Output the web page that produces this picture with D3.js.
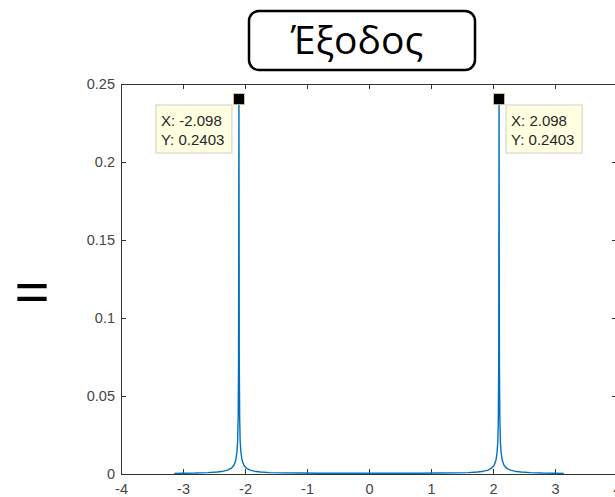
<!DOCTYPE html>
<html>
<head>
<meta charset="utf-8">
<script src="https://cdn.jsdelivr.net/npm/d3@7"></script>
<style>
  body { margin: 0; background: #fff; }
  svg { display: block; }
</style>
</head>
<body>
<svg id="chart"></svg>
<script>
const width = 615;
const height = 497;

// Data (response curve, peaks at +-2.098)
const freq = [
  -3.1416, -3.0, -2.8, -2.6, -2.45, -2.35, -2.28, -2.22, -2.18, -2.15, -2.13, -2.12, -2.11, -2.104,
  -2.098,
  -2.092, -2.086, -2.078, -2.066, -2.048, -2.018, -1.978, -1.918, -1.85, -1.75, -1.6, -1.4, -1.1, -0.8, -0.5, -0.2,
  0,
  0.2, 0.5, 0.8, 1.1, 1.4, 1.6, 1.75, 1.85, 1.918, 1.978, 2.018, 2.048, 2.066, 2.078, 2.086, 2.092,
  2.098,
  2.104, 2.11, 2.12, 2.13, 2.15, 2.18, 2.22, 2.28, 2.35, 2.45, 2.6, 2.8, 3.0, 3.1416
];
const magnitude = [
  0.0003, 0.0005, 0.0006, 0.0009, 0.0013, 0.0018, 0.0025, 0.0037, 0.0055, 0.0086, 0.014, 0.020, 0.036, 0.07,
  0.2403,
  0.07, 0.036, 0.021, 0.014, 0.0088, 0.0056, 0.0037, 0.0025, 0.0018, 0.0013, 0.0009, 0.0007, 0.0006, 0.0005, 0.0005, 0.0005,
  0.0005,
  0.0005, 0.0005, 0.0005, 0.0006, 0.0007, 0.0009, 0.0013, 0.0018, 0.0025, 0.0037, 0.0056, 0.0088, 0.014, 0.021, 0.036, 0.07,
  0.2403,
  0.07, 0.036, 0.020, 0.014, 0.0086, 0.0055, 0.0037, 0.0025, 0.0018, 0.0013, 0.0009, 0.0006, 0.0005, 0.0003
];
const xTicks = [-4, -3, -2, -1, 0, 1, 2, 3, 4];
const yTicks = [0, 0.05, 0.1, 0.15, 0.2, 0.25];
const tipX = [-2.098, 2.098];
const tipY = [0.2403, 0.2403];
const tipLabels = [["X: -2.098", "Y: 0.2403"], ["X: 2.098", "Y: 0.2403"]];
const titleText = "Έξοδος";

const svg = d3.select("#chart")
  .attr("width", width)
  .attr("height", height);

// Plot box
const plotLeft = 121, plotRight = 617, plotTop = 84, plotBottom = 474;

const xScale = d3.scaleLinear().domain([-4, 4]).range([plotLeft, plotRight]);
const yScale = d3.scaleLinear().domain([0, 0.25]).range([plotBottom, plotTop]);

const axisColor = "#333";
const labelFont = "Liberation Sans, Arial, sans-serif";

// plain hyphen-minus, like the original
const plainNum = d => String(+d.toFixed(2));

function styleAxis(g) {
  g.attr("font-size", null);
  g.select(".domain").attr("stroke", axisColor).attr("stroke-width", 1);
  g.selectAll(".tick line").attr("stroke", axisColor);
  g.selectAll(".tick text")
    .attr("fill", "#454545")
    .style("font-family", labelFont)
    .style("font-size", "14.5px");
}

// Bottom axis, ticks inward
svg.append("g")
  .attr("transform", `translate(0, ${plotBottom})`)
  .call(d3.axisBottom(xScale).tickValues(xTicks).tickSizeInner(-5).tickSizeOuter(0).tickPadding(10)
    .tickFormat(plainNum))
  .call(styleAxis);

// Left axis
svg.append("g")
  .attr("transform", `translate(${plotLeft}, 0)`)
  .call(d3.axisLeft(yScale).tickValues(yTicks).tickSizeInner(-5).tickSizeOuter(0).tickPadding(6)
    .tickFormat(plainNum))
  .call(styleAxis);

// Top axis (box)
svg.append("g")
  .attr("transform", `translate(0, ${plotTop})`)
  .call(d3.axisTop(xScale).tickValues(xTicks).tickSizeInner(-5).tickSizeOuter(0).tickFormat(""))
  .call(styleAxis);

// Right axis (box)
svg.append("g")
  .attr("transform", `translate(${plotRight}, 0)`)
  .call(d3.axisRight(yScale).tickValues(yTicks).tickSizeInner(-5).tickSizeOuter(0).tickFormat(""))
  .call(styleAxis);

// Clip
svg.append("clipPath").attr("id", "plot-clip")
  .append("rect")
  .attr("x", plotLeft).attr("y", plotTop)
  .attr("width", plotRight - plotLeft).attr("height", plotBottom - plotTop);

const points = freq.map((f, i) => [f, magnitude[i]]);

const line = d3.line()
  .x(d => xScale(d[0]))
  .y(d => yScale(d[1]));

svg.append("path")
  .datum(points)
  .attr("clip-path", "url(#plot-clip)")
  .attr("fill", "none")
  .attr("stroke", "#0072BD")
  .attr("stroke-width", 1.4)
  .attr("stroke-linejoin", "round")
  .attr("d", line);

// Data tips
const tips = svg.append("g");
tipX.forEach((tx, i) => {
  const px = xScale(tx);
  const py = yScale(tipY[i]);
  const boxW = 76, boxH = 48;
  const bx = tx < 0 ? px - 7 - boxW : px + 7;
  const by = 105;

  tips.append("rect")
    .attr("x", bx).attr("y", by)
    .attr("width", boxW).attr("height", boxH)
    .attr("fill", "#FFFFE1")
    .attr("stroke", "#cfcfc4")
    .attr("stroke-width", 1);

  tips.selectAll(null)
    .data(tipLabels[i])
    .enter()
    .append("text")
    .attr("x", bx + 5)
    .attr("y", (d, j) => by + 21 + j * 19)
    .attr("fill", "#262626")
    .style("font-family", labelFont)
    .style("font-size", "15px")
    .text(d => d);

  tips.append("rect")
    .attr("x", px - 5.5).attr("y", py - 5.5)
    .attr("width", 11).attr("height", 11)
    .attr("fill", "#000")
    .attr("stroke", "#d8cf9a")
    .attr("stroke-width", 0.8);
});

// Title box
svg.append("rect")
  .attr("x", 249).attr("y", 11)
  .attr("width", 226).attr("height", 59)
  .attr("rx", 10).attr("ry", 10)
  .attr("fill", "#fff")
  .attr("stroke", "#000")
  .attr("stroke-width", 2.5);

svg.append("text")
  .attr("x", 357)
  .attr("y", 54)
  .attr("text-anchor", "middle")
  .style("font-family", "Open Sans, sans-serif")
  .style("font-size", "39px")
  .attr("fill", "#000")
  .text(titleText);

// Equals sign
svg.append("text")
  .attr("x", 32)
  .attr("y", 315)
  .attr("text-anchor", "middle")
  .style("font-family", "Open Sans, sans-serif")
  .style("font-size", "64px")
  .attr("fill", "#000")
  .text("=");
</script>
</body>
</html>
